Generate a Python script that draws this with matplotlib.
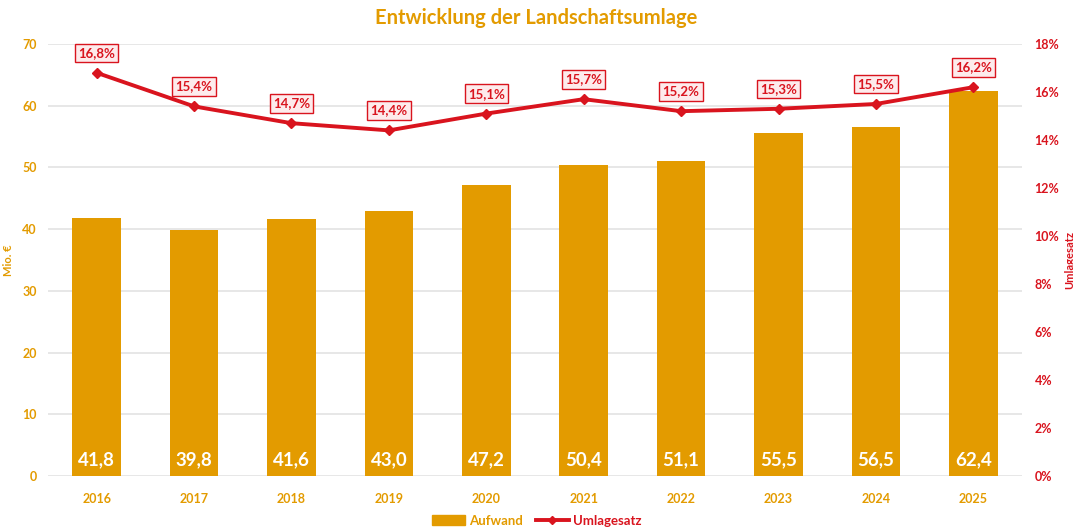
import numpy as np
import matplotlib.pyplot as plt
from matplotlib.lines import Line2D
from matplotlib.patches import Patch

plt.rcParams['font.family'] = ['Lato', 'DejaVu Sans']
plt.rcParams['font.weight'] = 'bold'

jahre = ['2016', '2017', '2018', '2019', '2020', '2021', '2022', '2023', '2024', '2025']
aufwand = [41.8, 39.8, 41.6, 43.0, 47.2, 50.4, 51.1, 55.5, 56.5, 62.4]
umlagesatz = [16.8, 15.4, 14.7, 14.4, 15.1, 15.7, 15.2, 15.3, 15.5, 16.2]

orange = '#E39B00'
rot = '#D9141E'
grau = '#E3E3E3'

fig = plt.figure(figsize=(10.73, 5.28), dpi=100)
ax = fig.add_axes([0.0447, 0.0985, 0.9078, 0.8182])
x = np.arange(len(jahre))

ax.bar(x, aufwand, width=0.5, color=orange, zorder=2)
for xi, v in zip(x, aufwand):
    ax.text(xi, 1.2, f'{v:.1f}'.replace('.', ','), ha='center', va='bottom',
            color='white', fontsize=13.5, fontweight='bold', zorder=3)

ax.set_ylim(0, 70)
ax.set_xlim(-0.5, len(jahre) - 0.5)
ax.set_yticks(range(0, 71, 10))
ax.set_xticks(x)
ax.set_xticklabels(jahre)
ax.yaxis.grid(True, color=grau, linewidth=1.2, zorder=0)
ax.set_axisbelow(True)
for s in ax.spines.values():
    s.set_visible(False)
ax.tick_params(length=0, colors=orange, labelsize=9)
ax.tick_params(axis='x', pad=12)
ax.tick_params(axis='y', pad=8)
ax.set_ylabel('Mio. €', color=orange, fontsize=8, fontweight='bold')
ax.yaxis.set_label_coords(-0.035, 0.5)

ax2 = ax.twinx()
ax2.set_ylim(0, 18)
ax2.set_yticks(range(0, 19, 2))
ax2.set_yticklabels([f'{t}%' for t in range(0, 19, 2)])
for s in ax2.spines.values():
    s.set_visible(False)
ax2.tick_params(length=0, colors=rot, labelsize=9, pad=9)
ax2.set_ylabel('Umlagesatz', color=rot, fontsize=8, fontweight='bold')
ax2.yaxis.set_label_coords(1.043, 0.5)

ax2.plot(x, umlagesatz, color=rot, linewidth=2.8, marker='D', markersize=5, zorder=4)
for xi, v in zip(x, umlagesatz):
    ax2.annotate(f'{v:.1f}%'.replace('.', ','), (xi, v), xytext=(0, 10),
                 textcoords='offset points', ha='center', va='bottom',
                 color=rot, fontsize=9.5, fontweight='bold',
                 bbox=dict(boxstyle='square,pad=0.25', fc='#FDEBEC', ec=rot, lw=1))

fig.suptitle('Entwicklung der Landschaftsumlage', color=orange, fontsize=14.5,
             fontweight='bold', y=0.985)

handles = [Patch(color=orange, label='Aufwand'),
           Line2D([0], [0], color=rot, lw=2.8, marker='D', markersize=4, label='Umlagesatz')]
leg = fig.legend(handles=handles, loc='lower center', ncol=2, frameon=False,
                 bbox_to_anchor=(0.5, -0.02), fontsize=9.5, handlelength=2.5,
                 columnspacing=1.0, handletextpad=0.3)
for t, c in zip(leg.get_texts(), [orange, rot]):
    t.set_color(c)

fig.savefig('out.png', dpi=100)
